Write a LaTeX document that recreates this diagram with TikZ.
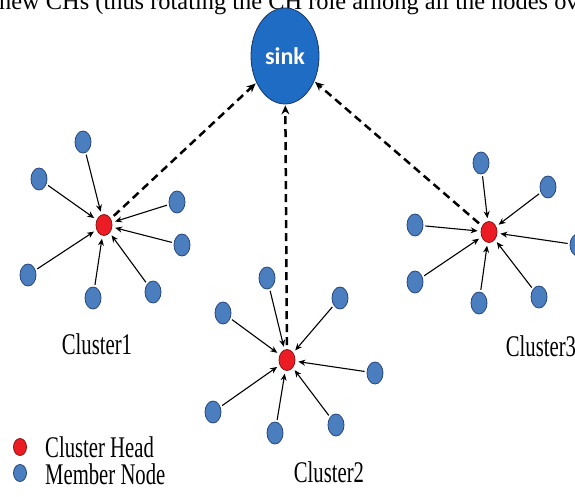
\documentclass[tikz,border=0pt]{standalone}
\usepackage{fontspec}
\usepackage{graphicx}
\setmainfont{Liberation Serif}
\newfontfamily\sinkfont{Carlito}
\usetikzlibrary{shapes.geometric,arrows.meta}
\definecolor{memberblue}{RGB}{74,126,190}
\definecolor{memberline}{RGB}{40,70,125}
\definecolor{headred}{RGB}{236,28,36}
\definecolor{headline}{RGB}{140,20,20}
\definecolor{sinkblue}{RGB}{30,108,196}
\definecolor{sinkline}{RGB}{25,55,105}
\tikzset{
  member/.style={ellipse, draw=memberline, fill=memberblue, line width=0.8pt, minimum width=16pt, minimum height=22pt, inner sep=0pt},
  head/.style={ellipse, draw=headline, fill=headred, line width=0.8pt, minimum width=16pt, minimum height=21pt, inner sep=0pt},
  link/.style={-{Stealth[length=7pt,width=6pt]}, line width=1.1pt, shorten <=2pt, shorten >=3pt},
  uplink/.style={-{Stealth[length=9pt,width=8pt]}, line width=2.5pt, dash pattern=on 8pt off 5pt, shorten <=4pt, shorten >=1pt},
  lbl/.style={font=\fontsize{30}{30}\selectfont, inner sep=0pt},
  legendtext/.style={lbl, text height=20pt, text depth=3pt}
}
\newcommand{\narrow}[1]{\scalebox{0.69}[1]{#1}}
\begin{document}
\begin{tikzpicture}[x=1pt,y=-1pt]
\useasboundingbox (0,0) rectangle (575,497);
\clip (0,0) rectangle (575,497);
\fill[white] (0,0) rectangle (575,497);
% clipped line of body text at top
\node[anchor=base west, inner sep=0pt, font=\fontsize{24.4}{24.4}\selectfont] (toptext) at (-1,10) {new CHs (thus rotating the CH role among all the nodes ov};
% sink
\node[ellipse, draw=sinkline, fill=sinkblue, line width=0.8pt, minimum width=68pt, minimum height=96pt, inner sep=0pt, text=white, font=\sinkfont\bfseries\fontsize{24}{24}\selectfont] (sink) at (285,56) {sink};
% cluster heads
\node[head] (h1) at (104,225) {};
\node[head] (h2) at (287,360) {};
\node[head] (h3) at (489,232) {};
% cluster 1 members
\foreach \n/\p in {a/{(83,142)}, b/{(39,179)}, c/{(177,202)}, d/{(182,245)}, e/{(28,275)}, f/{(93,298)}, g/{(153,292)}}{
  \node[member] (c1\n) at \p {};
  \draw[link] (c1\n) -- (h1);
}
% cluster 2 members
\foreach \n/\p in {a/{(267,278)}, b/{(223,313)}, c/{(340,298)}, d/{(375,373)}, e/{(213,412)}, f/{(275,433)}, g/{(336,425)}}{
  \node[member] (c2\n) at \p {};
  \draw[link] (c2\n) -- (h2);
}
% cluster 3 members
\foreach \n/\p in {a/{(481,163)}, b/{(548,187)}, c/{(415,225)}, d/{(578,245)}, e/{(415,282)}, f/{(479,303)}, g/{(539,297)}}{
  \node[member] (c3\n) at \p {};
  \draw[link] (c3\n) -- (h3);
}
% heads to sink
\draw[uplink] (h1) -- (sink);
\draw[uplink] (h2) -- (sink);
\draw[uplink] (h3) -- (sink);
% cluster labels
\node[lbl, anchor=base] (l1) at (97,354) {\narrow{Cluster1}};
\node[lbl, anchor=base] (l2) at (329,482) {\narrow{Cluster2}};
\node[lbl, anchor=base] (l3) at (541,356) {\narrow{Cluster3}};
% legend
\node[head, minimum width=13pt, minimum height=17pt] (lgh) at (20,447) {};
\node[member, minimum width=13pt, minimum height=17pt] (lgm) at (20,473) {};
\node[legendtext, anchor=base west] (lght) at (45,457) {\narrow{Cluster Head}};
\node[legendtext, anchor=base west] (lgmt) at (45,484) {\narrow{Member Node}};
\end{tikzpicture}
\end{document}
